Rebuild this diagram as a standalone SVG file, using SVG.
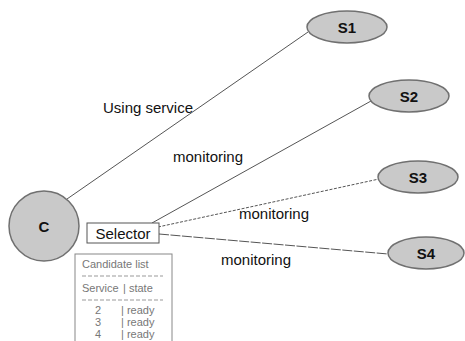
<svg xmlns="http://www.w3.org/2000/svg" width="465" height="341" viewBox="0 0 465 341">
<style>
.node{fill:#c9c9c9;stroke:#707070;stroke-width:1.5}
.lbl{font-family:"Liberation Sans",Arial,sans-serif;font-size:15px;fill:#111}
.nl{font-family:"Liberation Sans",Arial,sans-serif;font-size:15px;font-weight:bold;fill:#111;text-anchor:middle}
.edge{stroke:#555;stroke-width:1;fill:none}
.small{font-family:"Liberation Sans",Arial,sans-serif;font-size:11px;fill:#777}
.dash{stroke:#999;stroke-width:1;stroke-dasharray:4,2}
</style>
<rect width="465" height="341" fill="#fff"/>
<g id="connectors">
<line class="edge" x1="67" y1="199" x2="308" y2="32"/>
<line class="edge" x1="152" y1="223" x2="371" y2="101"/>
<line class="edge" x1="158" y1="227" x2="379" y2="179" stroke-dasharray="3,1.5"/>
<line class="edge" x1="159" y1="234" x2="388" y2="254" stroke-dasharray="10,1.5"/>
</g>
<g id="labels">
<text class="lbl" x="103" y="113">Using service</text>
<text class="lbl" x="173" y="162">monitoring</text>
<text class="lbl" x="239" y="219">monitoring</text>
<text class="lbl" x="221" y="265">monitoring</text>
</g>
<g id="C">
<circle class="node" cx="44" cy="226" r="35"/>
<text class="nl" x="44" y="232">C</text>
</g>
<g id="S1">
<ellipse class="node" cx="347" cy="27" rx="40" ry="16"/>
<text class="nl" x="347" y="33">S1</text>
</g>
<g id="S2">
<ellipse class="node" cx="409" cy="96" rx="40" ry="16"/>
<text class="nl" x="409" y="102">S2</text>
</g>
<g id="S3">
<ellipse class="node" cx="418" cy="177" rx="40" ry="16"/>
<text class="nl" x="418" y="183">S3</text>
</g>
<g id="S4">
<ellipse class="node" cx="426" cy="253" rx="38" ry="16"/>
<text class="nl" x="426" y="259">S4</text>
</g>
<g id="Selector">
<rect x="87" y="223" width="72" height="20" fill="#fff" stroke="#555" stroke-width="1"/>
<text class="lbl" x="123" y="239" text-anchor="middle">Selector</text>
</g>
<g id="CandidateList">
<rect x="75" y="254" width="97" height="95" fill="#fff" stroke="#888" stroke-width="1"/>
<text class="small" x="82" y="268">Candidate list</text>
<line class="dash" x1="82" y1="276" x2="163" y2="276"/>
<text class="small" x="82" y="292">Service</text><text class="small" x="123" y="292">| state</text>
<line class="dash" x1="82" y1="300" x2="163" y2="300"/>
<text class="small" x="95" y="314">2</text><text class="small" x="121" y="314">| ready</text>
<text class="small" x="95" y="326">3</text><text class="small" x="121" y="326">| ready</text>
<text class="small" x="95" y="338">4</text><text class="small" x="121" y="338">| ready</text>
</g>
</svg>
